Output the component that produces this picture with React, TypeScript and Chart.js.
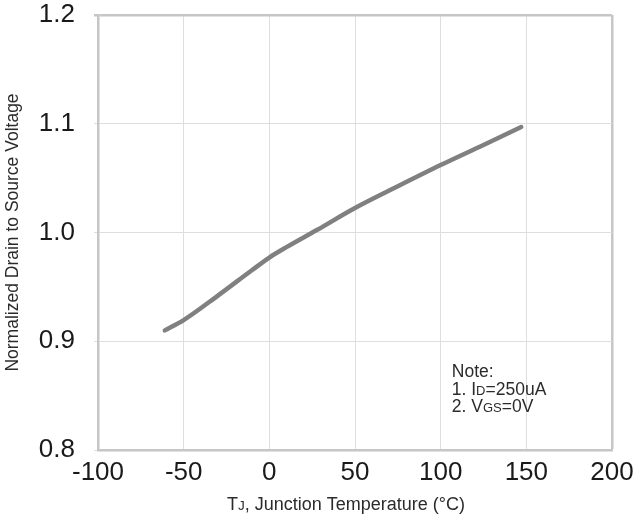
import { useEffect, useRef } from "react";
import { Chart, registerables } from "chart.js";

Chart.register(...registerables);

// ---- data ----
const temperatures = [-61, -50, -30, -10, 0, 10, 28, 50, 75, 100, 125, 147];
const normalizedBV = [0.91, 0.9195, 0.942, 0.9655, 0.977, 0.9865, 1.0025, 1.0225, 1.0425, 1.062, 1.0805, 1.097];
const xTickValues = [-100, -50, 0, 50, 100, 150, 200];
const yTickValues = [0.8, 0.9, 1.0, 1.1, 1.2];
const yTitle = "Normalized Drain to Source Voltage";
// segments: [text, isSmall]
const xTitleSegments: [string, boolean][] = [["T", false], ["J", true], [", Junction Temperature (°C)", false]];
const noteLines: [string, boolean][][] = [
  [["Note:", false]],
  [["1. I", false], ["D", true], ["=250uA", false]],
  [["2. V", false], ["GS", true], ["=0V", false]],
];

const FONT = "'Liberation Sans', Arial, Helvetica, sans-serif";

export default function App() {
  const ref = useRef<HTMLCanvasElement | null>(null);

  useEffect(() => {
    if (!ref.current) return;

    const drawSegments = (ctx: CanvasRenderingContext2D, segs: [string, boolean][], x: number, y: number, big: number, small: number, center: boolean) => {
      const widths = segs.map(([t, s]) => {
        ctx.font = `${s ? small : big}px ${FONT}`;
        return ctx.measureText(t).width;
      });
      const total = widths.reduce((a, b) => a + b, 0);
      let cx = center ? x - total / 2 : x;
      segs.forEach(([t, s], i) => {
        ctx.font = `${s ? small : big}px ${FONT}`;
        ctx.fillText(t, cx, y);
        cx += widths[i];
      });
    };

    const textPlugin = {
      id: "extraText",
      afterDraw(chart: any) {
        const ctx: CanvasRenderingContext2D = chart.ctx;
        const xs = chart.scales.x;
        const ys = chart.scales.y;
        const area = chart.chartArea;
        ctx.save();
        ctx.fillStyle = "#2b2b2b";
        ctx.textAlign = "left";
        ctx.textBaseline = "alphabetic";
        // note
        const nx = xs.getPixelForValue(106.5);
        const ny = ys.getPixelForValue(0.867);
        noteLines.forEach((line, i) => {
          drawSegments(ctx, line, nx, ny + i * 17.4, 17.5, 13, false);
        });
        // x axis title
        drawSegments(ctx, xTitleSegments, (area.left + area.right) / 2 - 9, area.bottom + 60, 18, 13.5, true);
        ctx.restore();
      },
    };

    const gridColor = (c: any, edgeValue: number) =>
      c.tick && Math.abs(c.tick.value - edgeValue) < 1e-9 ? "#c6c6c6" : "#dedede";
    const gridWidth = (c: any, edgeValue: number) =>
      c.tick && Math.abs(c.tick.value - edgeValue) < 1e-9 ? 2.5 : 1;

    const chart = new Chart(ref.current, {
      type: "scatter",
      data: {
        datasets: [
          {
            data: temperatures.map((t, i) => ({ x: t, y: normalizedBV[i] })),
            showLine: true,
            borderColor: "#808080",
            borderWidth: 4.5,
            pointRadius: 0,
            cubicInterpolationMode: "monotone",
            borderCapStyle: "round",
            borderJoinStyle: "round",
          } as any,
        ],
      },
      options: {
        animation: false,
        responsive: true,
        maintainAspectRatio: false,
        layout: { padding: { top: 0, right: 0, bottom: 0, left: 0 } },
        plugins: { legend: { display: false }, tooltip: { enabled: false } },
        scales: {
          x: {
            type: "linear",
            min: -100,
            max: 200,
            afterBuildTicks: (s: any) => {
              s.ticks = xTickValues.map((v) => ({ value: v }));
            },
            afterFit: (s: any) => {
              s.height = 66;
              s.paddingLeft = 0;
              s.paddingRight = 25;
            },
            grid: {
              color: (c: any) => gridColor(c, 200),
              lineWidth: (c: any) => gridWidth(c, 200),
              drawTicks: false,
            },
            border: { display: true, color: "#c6c6c6", width: 2.5 },
            ticks: {
              padding: 7,
              color: "#1a1a1a",
              font: { family: FONT, size: 26 },
              maxRotation: 0,
              autoSkip: false,
              callback: (v: any) => String(v),
            },
          },
          y: {
            type: "linear",
            min: 0.8,
            max: 1.2,
            afterBuildTicks: (s: any) => {
              s.ticks = yTickValues.map((v) => ({ value: v }));
            },
            afterFit: (s: any) => {
              s.width = 98;
              s.paddingTop = 15;
              s.paddingBottom = 0;
            },
            grid: {
              color: (c: any) => gridColor(c, 1.2),
              lineWidth: (c: any) => gridWidth(c, 1.2),
              drawTicks: true,
              tickLength: 4,
            },
            border: { display: true, color: "#c6c6c6", width: 2.5 },
            ticks: {
              padding: 19,
              color: "#1a1a1a",
              font: { family: FONT, size: 26 },
              autoSkip: false,
              callback: (v: any) => Number(v).toFixed(1),
            },
            title: {
              display: true,
              text: yTitle,
              color: "#2b2b2b",
              font: { family: FONT, size: 17.5 },
              padding: { top: 3, bottom: 0 },
            },
          },
        },
      },
      plugins: [textPlugin],
    });

    return () => chart.destroy();
  }, []);

  return (
    <div style={{ position: "absolute", left: 0, top: 0, width: 637, height: 516, background: "#fff" }}>
      <canvas ref={ref} />
    </div>
  );
}
